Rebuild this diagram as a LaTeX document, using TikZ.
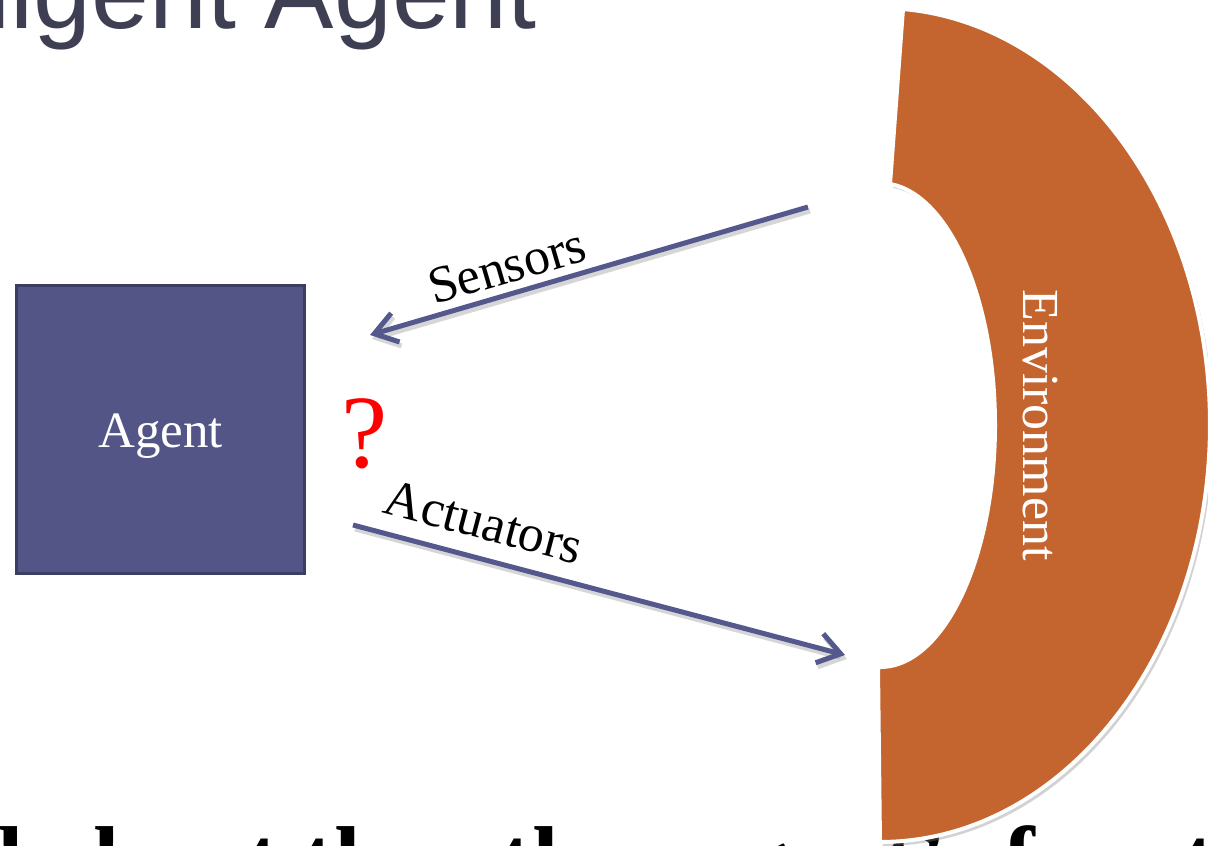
\documentclass[tikz,border=0pt]{standalone}
\usepackage{fontspec}
\setmainfont{Liberation Serif}
\newfontfamily\titlefont{Liberation Sans}
\usetikzlibrary{arrows.meta,shadows}

\definecolor{agentfill}{HTML}{535587}
\definecolor{agentline}{HTML}{3C3D63}
\definecolor{arrowblue}{HTML}{54588C}
\definecolor{envorange}{HTML}{C4652F}
\definecolor{titlegray}{HTML}{3F3F53}

\tikzset{
  labeltext/.style={font=\fontsize{52}{60}\selectfont, inner sep=0pt},
  agentbox/.style={draw=agentline, line width=3pt, fill=agentfill,
    minimum width=288pt, minimum height=288pt, inner sep=0pt,
    text height=33pt, text depth=11pt,
    text=white, font=\fontsize{51}{60}\selectfont},
  flow/.style={draw=arrowblue, line width=5pt,
    -{Straight Barb[length=22pt,width=30pt]}},
  flowshadow/.style={draw=black!35, opacity=0.45, line width=5pt,
    -{Straight Barb[length=22pt,width=30pt]}},
  envshape/.style={fill=envorange, draw=white, line width=4pt,
    drop shadow={opacity=0.35, shadow xshift=3pt, shadow yshift=-4pt}},
}

\begin{document}
\begin{tikzpicture}[x=1pt,y=1pt]
  % page frame: 1208 x 846, origin at top left, y grows upwards
  \useasboundingbox (0,0) rectangle (1208,-846);
  \clip (0,0) rectangle (1208,-846);
  \fill[white] (0,0) rectangle (1208,-846);

  % slide title, cut by the top edge
  \node[anchor=base east, inner sep=0pt, text=titlegray,
        font=\titlefont\fontsize{104}{120}\selectfont] (title) at (537,-28) {Intelligent Agent};

  % body line, cut by the bottom edge
  \node[anchor=base west, inner sep=0pt,
        font=\bfseries\fontsize{95}{110}\selectfont] (body) at (-30,-892)
        {d about the other agent's function};

  % environment: elliptical block arc
  \path[envshape]
    (903,-9) arc[start angle=86, end angle=-90, x radius=330, y radius=417]
    -- (878,-667) arc[start angle=-91, end angle=85, x radius=115, y radius=242]
    -- cycle;
  \node[rotate=-90, text=white, labeltext] (env) at (1040,-425) {Environment};

  % agent
  \node[agentbox] (agent) at (160.5,-429.5) {\raisebox{-7pt}{Agent}};

  % connector end points
  \coordinate (senA) at (808,-207);
  \coordinate (senB) at (370,-335);
  \coordinate (actA) at (353,-525);
  \coordinate (actB) at (845,-655);

  % soft shadows under the connectors
  \draw[flowshadow] ([shift={(2,-4)}]senA) -- ([shift={(2,-4)}]senB);
  \draw[flowshadow] ([shift={(2,-4)}]actA) -- ([shift={(2,-4)}]actB);

  % connectors
  \draw[flow] (senA) -- (senB);
  \draw[flow] (actA) -- (actB);

  % labels
  \node[labeltext, rotate=16.3] (senlabel) at (507,-266) {Sensors};
  \node[labeltext, rotate=-14.8] (actlabel) at (484,-522) {Actuators};
  \node[text=red, inner sep=0pt, font=\fontsize{104}{114}\selectfont] (q) at (365,-434) {?};
\end{tikzpicture}
\end{document}
